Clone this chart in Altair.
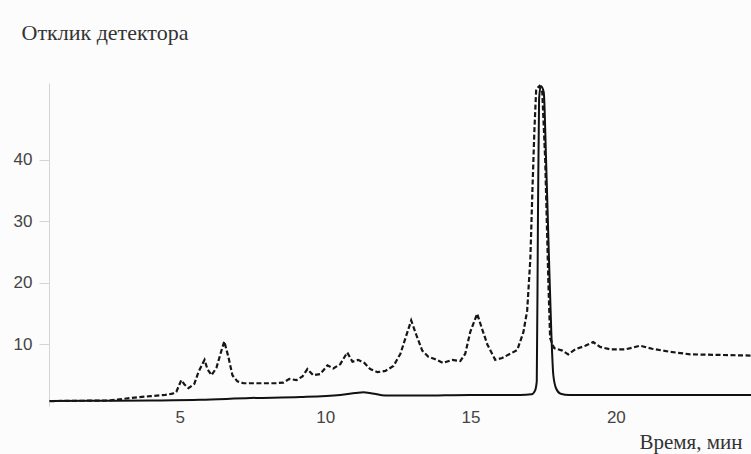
import altair as alt
import pandas as pd

# Solid trace: time (min) and detector response
solid_t = [0.52, 2.0, 4.0, 5.7, 7.43, 9.15, 10.52, 11.04, 11.31, 11.62, 12.07, 13.27,
           14.99, 16.71, 17.10, 17.22, 17.28, 17.32, 17.36, 17.42, 17.52, 17.60, 17.70,
           17.78, 17.85, 17.95, 18.10, 18.40, 20.0, 22.0, 24.66]
solid_v = [0.8, 0.85, 0.9, 1.0, 1.3, 1.45, 1.8, 2.1, 2.25, 2.05, 1.7, 1.7,
           1.8, 1.8, 1.9, 2.5, 4.0, 30.0, 50.0, 52.0, 51.0, 40.0, 24.0,
           12.0, 5.0, 2.8, 2.0, 1.8, 1.8, 1.8, 1.8]

# Dashed trace: time (min) and detector response
dash_t = [0.52, 1.58, 2.61, 3.30, 3.99, 4.50, 4.75, 4.88, 5.05, 5.16, 5.30, 5.50, 5.64,
          5.85, 5.95, 6.09, 6.26, 6.40, 6.53, 6.67, 6.81, 6.98, 7.19, 7.77, 8.29, 8.56,
          8.77, 9.01, 9.22, 9.39, 9.59, 9.83, 10.08, 10.28, 10.52, 10.76, 10.94, 11.14,
          11.35, 11.55, 11.80, 12.07, 12.35, 12.59, 12.76, 12.96, 13.14, 13.34, 13.55,
          13.79, 14.06, 14.37, 14.65, 14.82, 14.99, 15.23, 15.40, 15.58, 15.85, 16.09,
          16.37, 16.61, 16.82, 16.95, 17.06, 17.13, 17.20, 17.26, 17.37, 17.47, 17.57,
          17.68, 17.74, 17.88, 18.16, 18.36, 18.60, 18.95, 19.22, 19.46, 19.81, 20.32,
          20.84, 21.25, 21.87, 22.56, 23.59, 24.66]
dash_v = [0.8, 0.85, 0.9, 1.3, 1.6, 1.8, 2.0, 2.3, 4.2, 3.5, 2.9, 3.6, 5.5,
          7.5, 6.0, 5.0, 6.2, 8.5, 10.5, 8.0, 5.0, 4.0, 3.7, 3.7, 3.7, 3.8,
          4.4, 4.2, 4.8, 6.0, 5.0, 5.2, 6.6, 6.1, 6.8, 8.7, 7.2, 7.5,
          7.0, 6.0, 5.5, 5.7, 6.5, 8.5, 11.0, 13.9, 11.5, 9.0, 8.0,
          7.6, 7.0, 7.5, 7.3, 8.5, 12.0, 15.0, 12.5, 10.0, 7.5, 7.8,
          8.5, 9.1, 12.0, 15.5, 24.0, 35.0, 45.0, 51.5, 52.0, 51.0, 40.0,
          20.0, 11.0, 9.4, 9.0, 8.4, 9.2, 9.8, 10.4, 9.6, 9.2, 9.2,
          9.8, 9.3, 8.8, 8.4, 8.3, 8.2]

y_ticks = [10, 20, 30, 40]
x_ticks = [5, 10, 15, 20]

solid_df = pd.DataFrame({"t": solid_t, "v": solid_v})
dash_df = pd.DataFrame({"t": dash_t, "v": dash_v})

x_enc = alt.X(
    "t:Q",
    scale=alt.Scale(domain=[0.5, 24.65], nice=False, zero=False),
    axis=alt.Axis(
        values=x_ticks, domain=False, ticks=False, grid=False,
        labelPadding=3, labelFontSize=17, labelFont="Liberation Sans",
        labelColor="#444444", format="d",
        title="Время, мин", titleFont="Liberation Serif", titleFontSize=21,
        titleFontWeight="normal", titleColor="#333333",
        titleAlign="right", titleAnchor="end", titleBaseline="alphabetic",
        titleX=693, titleY=42,
    ),
)
y_enc = alt.Y(
    "v:Q",
    scale=alt.Scale(domain=[0, 52.5], nice=False),
    axis=alt.Axis(
        values=y_ticks, grid=False, domainColor="#d4d4d4", tickColor="#d4d4d4",
        tickSize=10, labelPadding=7, labelFontSize=17, labelFont="Liberation Sans",
        labelColor="#444444",
        title="Отклик детектора", titleFont="Liberation Serif", titleFontSize=22,
        titleFontWeight="normal", titleColor="#333333", titleAngle=0,
        titleAlign="left", titleBaseline="alphabetic", titleX=-28, titleY=-44,
    ),
)

solid = alt.Chart(solid_df).mark_line(
    color="#111111", strokeWidth=2, interpolate="monotone"
).encode(x=x_enc, y=y_enc)

dashed = alt.Chart(dash_df).mark_line(
    color="#161616", strokeWidth=2.2, strokeDash=[5, 2.5]
).encode(x="t:Q", y="v:Q")

chart = (
    alt.layer(solid, dashed)
    .properties(
        width=702, height=323,
        autosize=alt.AutoSizeParams(type="none"),
        padding={"left": 49, "top": 83, "right": 0, "bottom": 48},
        background="#fcfcfc",
    )
    .configure_view(stroke=None)
)

chart.save("out.html", embed_options={"renderer": "svg", "actions": False})
